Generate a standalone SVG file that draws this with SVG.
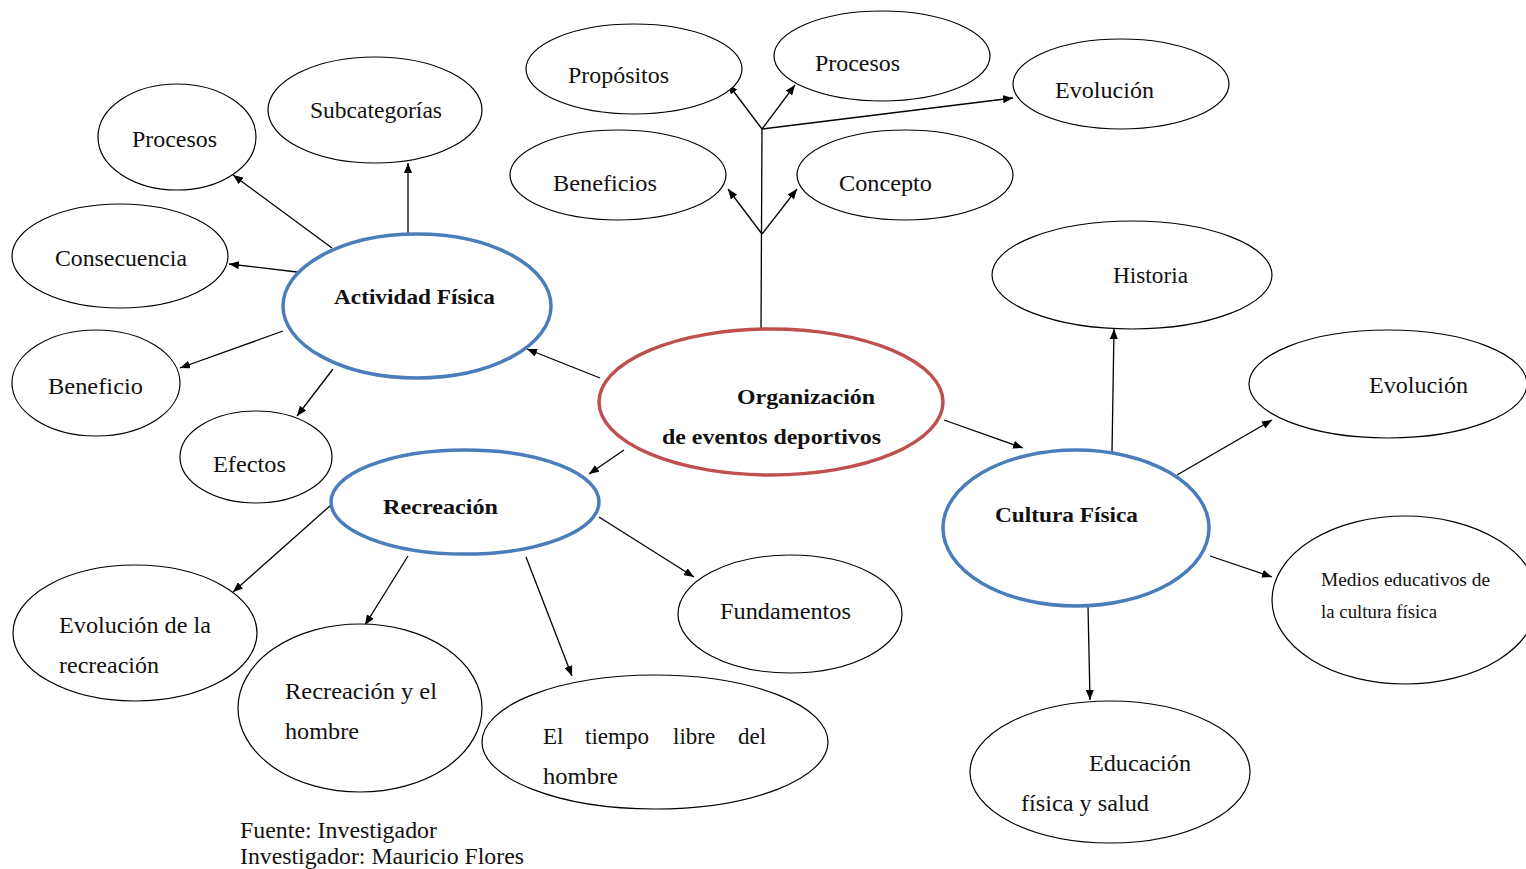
<svg xmlns="http://www.w3.org/2000/svg" width="1526" height="869" viewBox="0 0 1526 869">
<defs>
<marker id="ah" viewBox="0 0 10 8" refX="10" refY="4" markerWidth="10" markerHeight="8" markerUnits="userSpaceOnUse" orient="auto">
<path d="M0,0 L10,4 L0,8 z" fill="#000"/>
</marker>
<style>
.n{fill:#fff;stroke:#000;stroke-width:1.2}
.b{fill:#fff;stroke:#4a7ebb;stroke-width:3.5}
.r{fill:#fff;stroke:#c0504d;stroke-width:3.5}
.t{font-family:"Liberation Serif","Times New Roman",serif;font-size:23px;fill:#111}
.tb{font-family:"Liberation Serif","Times New Roman",serif;font-size:22px;font-weight:bold;fill:#111}
.ts{font-family:"Liberation Serif","Times New Roman",serif;font-size:18px;fill:#111}
.c{stroke:#000;stroke-width:1.3;fill:none}
.a{stroke:#000;stroke-width:1.3;fill:none;marker-end:url(#ah)}
</style>
</defs>
<rect width="1526" height="869" fill="#fff"/>
<g id="connectors">
<line class="c" x1="761" y1="330" x2="762" y2="128"/>
<line class="a" x1="762" y1="234" x2="728" y2="189"/>
<line class="a" x1="762" y1="234" x2="797" y2="189"/>
<line class="a" x1="762" y1="129" x2="728" y2="84"/>
<line class="a" x1="762" y1="129" x2="795" y2="85"/>
<line class="a" x1="762" y1="129" x2="1013" y2="98"/>
<line class="a" x1="600" y1="378" x2="527" y2="349"/>
<line class="a" x1="624" y1="450" x2="589" y2="474"/>
<line class="a" x1="944" y1="420" x2="1023" y2="448"/>
<line class="a" x1="332" y1="248" x2="233" y2="175"/>
<line class="a" x1="408" y1="234" x2="408" y2="163"/>
<line class="a" x1="297" y1="272" x2="229" y2="264"/>
<line class="a" x1="283" y1="331" x2="180" y2="368"/>
<line class="a" x1="333" y1="369" x2="297" y2="416"/>
<line class="a" x1="331" y1="505" x2="233" y2="592"/>
<line class="a" x1="408" y1="556" x2="365" y2="625"/>
<line class="a" x1="526" y1="557" x2="572" y2="676"/>
<line class="a" x1="599" y1="517" x2="694" y2="577"/>
<line class="a" x1="1112" y1="452" x2="1114" y2="329"/>
<line class="a" x1="1177" y1="475" x2="1272" y2="420"/>
<line class="a" x1="1210" y1="556" x2="1272" y2="577"/>
<line class="a" x1="1088" y1="606" x2="1090" y2="700"/>
</g>
<g id="proposito"><ellipse class="n" cx="634" cy="69" rx="108" ry="45"/><text class="t" x="568" y="83" textLength="101" lengthAdjust="spacingAndGlyphs">Propósitos</text></g>
<g id="procesos-top"><ellipse class="n" cx="882" cy="56" rx="108" ry="45"/><text class="t" x="815" y="71" textLength="85" lengthAdjust="spacingAndGlyphs">Procesos</text></g>
<g id="evolucion-top"><ellipse class="n" cx="1121" cy="84" rx="108" ry="45"/><text class="t" x="1055" y="98" textLength="99" lengthAdjust="spacingAndGlyphs">Evolución</text></g>
<g id="beneficios"><ellipse class="n" cx="618" cy="175" rx="108" ry="45"/><text class="t" x="553" y="191" textLength="104" lengthAdjust="spacingAndGlyphs">Beneficios</text></g>
<g id="concepto"><ellipse class="n" cx="905" cy="175" rx="108" ry="45"/><text class="t" x="839" y="191" textLength="93" lengthAdjust="spacingAndGlyphs">Concepto</text></g>
<g id="subcategorias"><ellipse class="n" cx="375" cy="110" rx="107" ry="53"/><text class="t" x="310" y="118" textLength="132" lengthAdjust="spacingAndGlyphs">Subcategorías</text></g>
<g id="procesos-left"><ellipse class="n" cx="177" cy="137" rx="79" ry="53"/><text class="t" x="132" y="147" textLength="85" lengthAdjust="spacingAndGlyphs">Procesos</text></g>
<g id="consecuencia"><ellipse class="n" cx="120" cy="256" rx="108" ry="52"/><text class="t" x="55" y="266" textLength="132" lengthAdjust="spacingAndGlyphs">Consecuencia</text></g>
<g id="beneficio"><ellipse class="n" cx="96" cy="383" rx="84" ry="53"/><text class="t" x="48" y="394" textLength="95" lengthAdjust="spacingAndGlyphs">Beneficio</text></g>
<g id="efectos"><ellipse class="n" cx="256" cy="457" rx="76" ry="46"/><text class="t" x="213" y="472" textLength="73" lengthAdjust="spacingAndGlyphs">Efectos</text></g>
<g id="actividad-fisica"><ellipse class="b" cx="417" cy="306" rx="134" ry="72"/><text class="tb" x="334" y="304" textLength="161" lengthAdjust="spacingAndGlyphs">Actividad Física</text></g>
<g id="organizacion"><ellipse class="r" cx="771" cy="402" rx="172" ry="73"/><text class="tb" x="737" y="404" textLength="138" lengthAdjust="spacingAndGlyphs">Organización</text><text class="tb" x="662" y="444" textLength="219" lengthAdjust="spacingAndGlyphs">de eventos deportivos</text></g>
<g id="recreacion"><ellipse class="b" cx="465" cy="502" rx="134" ry="52"/><text class="tb" x="383" y="514" textLength="115" lengthAdjust="spacingAndGlyphs">Recreación</text></g>
<g id="cultura-fisica"><ellipse class="b" cx="1076" cy="528" rx="133" ry="78"/><text class="tb" x="995" y="522" textLength="143" lengthAdjust="spacingAndGlyphs">Cultura Física</text></g>
<g id="historia"><ellipse class="n" cx="1132" cy="275" rx="140" ry="54"/><text class="t" x="1113" y="283" textLength="75" lengthAdjust="spacingAndGlyphs">Historia</text></g>
<g id="evolucion-right"><ellipse class="n" cx="1388" cy="384" rx="139" ry="54"/><text class="t" x="1369" y="393" textLength="99" lengthAdjust="spacingAndGlyphs">Evolución</text></g>
<g id="medios"><ellipse class="n" cx="1405" cy="600" rx="133" ry="84"/><text class="ts" x="1321" y="586" textLength="169" lengthAdjust="spacingAndGlyphs">Medios  educativos  de</text><text class="ts" x="1321" y="618" textLength="116" lengthAdjust="spacingAndGlyphs">la cultura  física</text></g>
<g id="educacion"><ellipse class="n" cx="1110" cy="772" rx="140" ry="71"/><text class="t" x="1089" y="771" textLength="102" lengthAdjust="spacingAndGlyphs">Educación</text><text class="t" x="1021" y="811" textLength="128" lengthAdjust="spacingAndGlyphs">física y salud</text></g>
<g id="fundamentos"><ellipse class="n" cx="790" cy="614" rx="112" ry="59"/><text class="t" x="720" y="619" textLength="131" lengthAdjust="spacingAndGlyphs">Fundamentos</text></g>
<g id="evolucion-recreacion"><ellipse class="n" cx="135" cy="633" rx="122" ry="68"/><text class="t" x="59" y="633" textLength="152" lengthAdjust="spacingAndGlyphs">Evolución de la</text><text class="t" x="59" y="673" textLength="100" lengthAdjust="spacingAndGlyphs">recreación</text></g>
<g id="recreacion-hombre"><ellipse class="n" cx="360" cy="708" rx="122" ry="84"/><text class="t" x="285" y="699" textLength="152" lengthAdjust="spacingAndGlyphs">Recreación y el</text><text class="t" x="285" y="739" textLength="74" lengthAdjust="spacingAndGlyphs">hombre</text></g>
<g id="tiempo-libre"><ellipse class="n" cx="655" cy="742" rx="173" ry="67"/><text class="t" y="744"><tspan x="543">El</tspan><tspan x="585">tiempo</tspan><tspan x="673">libre</tspan><tspan x="738">del</tspan></text><text class="t" x="543" y="784" textLength="75" lengthAdjust="spacingAndGlyphs">hombre</text></g>
<g id="fuente"><text class="t" x="240" y="838" textLength="197" lengthAdjust="spacingAndGlyphs">Fuente: Investigador</text><text class="t" x="240" y="864" textLength="284" lengthAdjust="spacingAndGlyphs">Investigador: Mauricio Flores</text></g>
</svg>
